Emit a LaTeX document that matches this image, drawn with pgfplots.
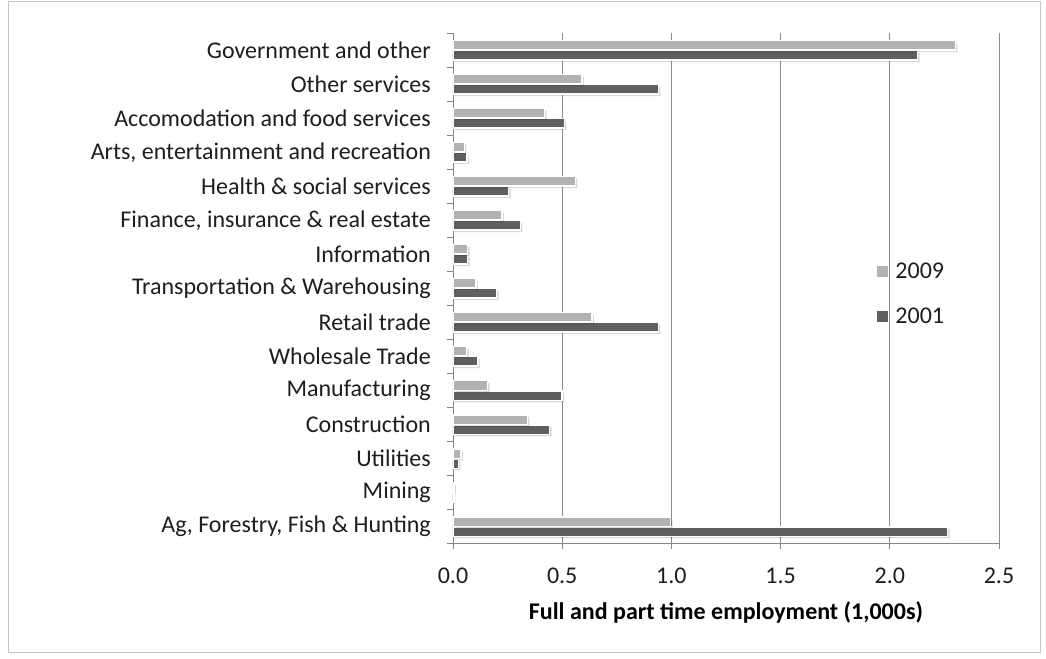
\documentclass[border=0pt]{standalone}
\usepackage{pgfplots}
\pgfplotsset{compat=1.18}
\usepackage{fontspec}
\setmainfont{Carlito}
\definecolor{lightbar}{HTML}{B2B2B2}
\definecolor{darkbar}{HTML}{5F5F5F}
\definecolor{gridc}{HTML}{8C8C8C}
\definecolor{axisc}{HTML}{868686}
\definecolor{txt}{HTML}{1E1E1E}
\begin{document}
\begin{tikzpicture}
\path[use as bounding box] (-453bp,-115.5bp) rectangle (593bp,543.5bp);
\draw[gray!45, line width=0.8bp] (-445bp,-108.5bp) rectangle (587bp,542.5bp);
\begin{axis}[
  at={(0,0)}, anchor=south west,
  scale only axis, width=546bp, height=510bp,
  xbar, bar width=9.5bp,
  xmin=0, xmax=2.5, ymin=-0.5, ymax=14.5,
  xtick={0,0.5,...,2.5},
  /pgf/number format/fixed, /pgf/number format/fixed zerofill, /pgf/number format/precision=1,
  /pgf/number format/assume math mode=true,
  ytick={0,...,14},
  yticklabels={{Ag, Forestry, Fish \& Hunting},{Mining},{Utilities},{Construction},{Manufacturing},{Wholesale Trade},{Retail trade},{Transportation \& Warehousing},{Information},{Finance, insurance \& real estate},{Health \& social services},{Arts, entertainment and recreation},{Accomodation and food services},{Other services},{Government and other}},
  minor ytick={-0.5,0.5,...,14.5},
  axis x line*=bottom, axis y line*=left,
  axis line style={-, axisc, line width=0.8bp},
  xmajorgrids, major grid style={gridc, line width=0.8bp},
  tick align=outside, tick pos=left,
  tick style={axisc, line width=0.8bp},
  major tick length=5bp, minor tick length=6bp,
  major y tick style={draw=none},
  tick label style={font=\fontsize{24bp}{28bp}\selectfont, color=txt},
  yticklabel style={inner sep=0pt, xshift=-17bp},
  xticklabel style={inner sep=0pt, yshift=-19bp},
  xlabel={\bfseries Full and part time employment (1,000s)},
  xlabel style={font=\fontsize{24bp}{28bp}\selectfont, color=black, at={(axis description cs:0.5,0)}, anchor=center, yshift=-69bp},
  legend style={draw=none, fill=none, at={(0.7766,0.49)}, anchor=west,
    font=\fontsize{24bp}{28bp}\selectfont, text=txt, row sep=28bp,
    inner sep=0pt, nodes={inner sep=0pt}},
  legend cell align=left,
  legend image code/.code={\fill[#1,draw=none] (0bp,-5.5bp) rectangle (11bp,5.5bp); \path (18bp,0) ;},
  barshadow/.style={preaction={fill=black, fill opacity=0.15, draw=none, transform canvas={xshift=2bp, yshift=-2bp}}},
]
\addlegendimage{fill=lightbar}
\addlegendentry{2009}
\addlegendimage{fill=darkbar}
\addlegendentry{2001}
\addplot[forget plot, fill=darkbar, draw=white, line width=1.5bp, bar shift=-5bp, barshadow] coordinates {
(2.265,0) (0.002,1) (0.025,2) (0.443,3) (0.50,4) (0.114,5) (0.94,6) (0.20,7)
(0.067,8) (0.309,9) (0.255,10) (0.064,11) (0.51,12) (0.94,13) (2.127,14)};
\addplot[forget plot, fill=lightbar, draw=white, line width=1.5bp, bar shift=5bp, barshadow] coordinates {
(0.995,0) (0.005,1) (0.036,2) (0.34,3) (0.158,4) (0.062,5) (0.636,6) (0.105,7)
(0.067,8) (0.224,9) (0.56,10) (0.052,11) (0.42,12) (0.59,13) (2.30,14)};
\end{axis}
\end{tikzpicture}
\end{document}
